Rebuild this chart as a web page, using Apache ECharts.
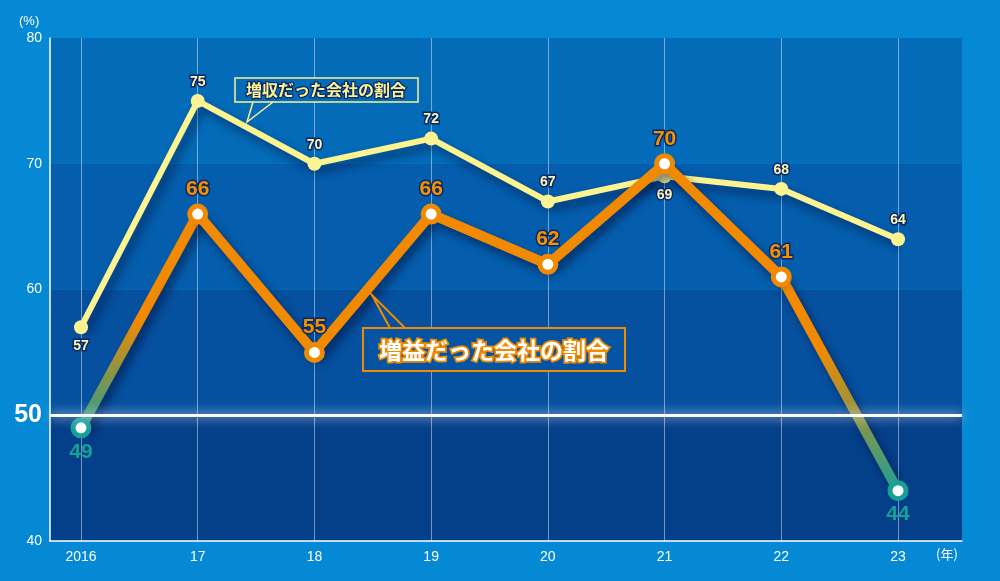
<!DOCTYPE html>
<html><head><meta charset="utf-8">
<script src="https://cdn.jsdelivr.net/npm/echarts@6/dist/echarts.min.js"></script>
<style>html,body{margin:0;padding:0;background:#0689d5;}#c{width:1000px;height:581px;}</style>
</head><body><div id="c"></div>
<script>
const years = ['2016','17','18','19','20','21','22','23'];
const revenueUp = [57,75,70,72,67,69,68,64];   // 増収だった会社の割合
const profitUp  = [49,66,55,66,62,70,61,44];   // 増益だった会社の割合
const yTicks = [40,50,60,70,80];
const revenueLabelBelow = [true,false,false,false,false,true,false,false];
const profitTeal = [true,false,false,false,false,false,false,true];

const YEL='#fdf391', ORG='#f18a00', TEAL='#17a098', NAVY='#0a2866';
const FONT='"Liberation Sans", Arial, sans-serif';
const JP='"Noto Sans CJK JP", sans-serif';
const shadow={shadowColor:'rgba(0,10,50,0.55)',shadowBlur:10,shadowOffsetX:4,shadowOffsetY:6};

const chart = echarts.init(document.getElementById('c'));

const yelData = revenueUp.map((v,i)=>({value:v,label:{position:revenueLabelBelow[i]?'bottom':'top'}}));
const orgMain = profitUp.map((v,i)=> profitTeal[i] ? '-' : v);
const orgPoint = (v)=>({value:v,symbolSize:16,itemStyle:{color:'#fff',borderColor:TEAL,borderWidth:5},
  label:{show:true,position:'bottom',distance:3,color:TEAL,fontSize:21,fontWeight:'bold',fontFamily:FONT}});
const segA = profitUp.map((v,i)=> i===0 ? orgPoint(v) : (i===1 ? {value:v,symbol:'none'} : '-'));
const segB = profitUp.map((v,i)=> i===7 ? orgPoint(v) : (i===6 ? {value:v,symbol:'none'} : '-'));
const grad=(mid)=>new echarts.graphic.LinearGradient(0,0,0,1,[{offset:0,color:ORG},{offset:mid,color:ORG},{offset:1,color:TEAL}]);

const option = {
  backgroundColor:'#0689d5',
  animation:false,
  grid:[
    {left:50,right:38,top:38,bottom:40},
    {left:81,right:102,top:38,bottom:40}
  ],
  xAxis:[
    {gridIndex:0,type:'value',min:0,max:1,axisLine:{show:true,lineStyle:{color:'#fff',width:1.5}},axisTick:{show:false},axisLabel:{show:false},splitLine:{show:false}},
    {gridIndex:1,type:'category',data:years,boundaryGap:false,axisLine:{show:false},axisTick:{show:false},
     axisLabel:{color:'#fff',fontSize:14,fontFamily:FONT,margin:9},
     splitLine:{show:true,lineStyle:{color:'rgba(255,255,255,0.45)',width:1}}}
  ],
  yAxis:[
    {gridIndex:0,type:'value',min:yTicks[0],max:yTicks[yTicks.length-1],interval:10,
     axisLine:{show:true,lineStyle:{color:'#fff',width:1.5}},axisTick:{show:false},
     splitLine:{show:false},
     splitArea:{show:true,areaStyle:{color:['#043f8a','#05509f','#045ead','#036bb8']}},
     axisLabel:{color:'#fff',fontSize:14,fontFamily:FONT,margin:8,
       formatter:(v)=> v===50 ? '{b|'+v+'}' : String(v),
       rich:{b:{fontSize:25,fontWeight:'bold',color:'#fff',fontFamily:FONT}}}},
    {gridIndex:1,type:'value',min:yTicks[0],max:yTicks[yTicks.length-1],interval:10,show:false}
  ],
  series:[
    {type:'line',xAxisIndex:0,yAxisIndex:0,data:[],silent:true,
     markLine:{silent:true,symbol:'none',label:{show:false},
       lineStyle:{color:'#ffffff',width:3,type:'solid',shadowColor:'rgba(255,255,255,1)',shadowBlur:12},
       data:[{yAxis:50}]}},
    {name:'増収',type:'line',xAxisIndex:1,yAxisIndex:1,data:yelData,z:3,
     lineStyle:Object.assign({color:YEL,width:6},shadow),
     symbol:'circle',symbolSize:14,itemStyle:{color:YEL},
     label:{show:true,distance:5,color:'#fdf6b8',fontSize:14,fontWeight:'bold',fontFamily:FONT,textBorderColor:NAVY,textBorderWidth:3}},
    {name:'segA',type:'line',xAxisIndex:1,yAxisIndex:1,data:segA,z:4,
     lineStyle:Object.assign({color:grad(0.5),width:10},shadow),symbol:'circle',showSymbol:true,
     label:{show:false}},
    {name:'segB',type:'line',xAxisIndex:1,yAxisIndex:1,data:segB,z:4,
     lineStyle:Object.assign({color:grad(0.35),width:10},shadow),symbol:'circle',showSymbol:true,
     label:{show:false}},
    {name:'増益',type:'line',xAxisIndex:1,yAxisIndex:1,data:orgMain,z:5,
     lineStyle:Object.assign({color:ORG,width:10},shadow),
     symbol:'circle',symbolSize:16,itemStyle:{color:'#fff',borderColor:ORG,borderWidth:5},
     label:{show:true,position:'top',distance:4,color:'#f39200',fontSize:21,fontWeight:'bold',fontFamily:FONT,textBorderColor:NAVY,textBorderWidth:3}}
  ],
  graphic:[
    {type:'text',left:19,top:15,style:{text:'(%)',fill:'#fff',font:'13px '+FONT}},
    {type:'text',left:936,top:548,style:{text:'(年)',fill:'#fff',font:'13px '+JP}},
    // yellow callout
    {type:'polyline',shape:{points:[[253,102],[247,122],[273,102]]},style:{stroke:YEL,lineWidth:1.5,fill:null},z:10},
    {type:'rect',shape:{x:235,y:78,width:183,height:24},style:{stroke:YEL,lineWidth:1.5,fill:'#036bb8'},z:10},
    {type:'text',x:326,y:90,style:{text:'増収だった会社の割合',fill:YEL,font:'bold 16px '+JP,align:'center',verticalAlign:'middle',stroke:NAVY,lineWidth:2.5},z:11},
    // orange callout
    {type:'polyline',shape:{points:[[390,328],[372,295],[405,328]]},style:{stroke:ORG,lineWidth:2,fill:null},z:10},
    {type:'rect',shape:{x:363,y:328,width:262,height:43},style:{stroke:ORG,lineWidth:2,fill:'#0553a3'},z:10},
    {type:'text',x:494,y:350,style:{text:'増益だった会社の割合',fill:'#fff',font:'bold 23px '+JP,align:'center',verticalAlign:'middle',stroke:ORG,lineWidth:3.5},z:11}
  ]
};
chart.setOption(option);
</script></body></html>
